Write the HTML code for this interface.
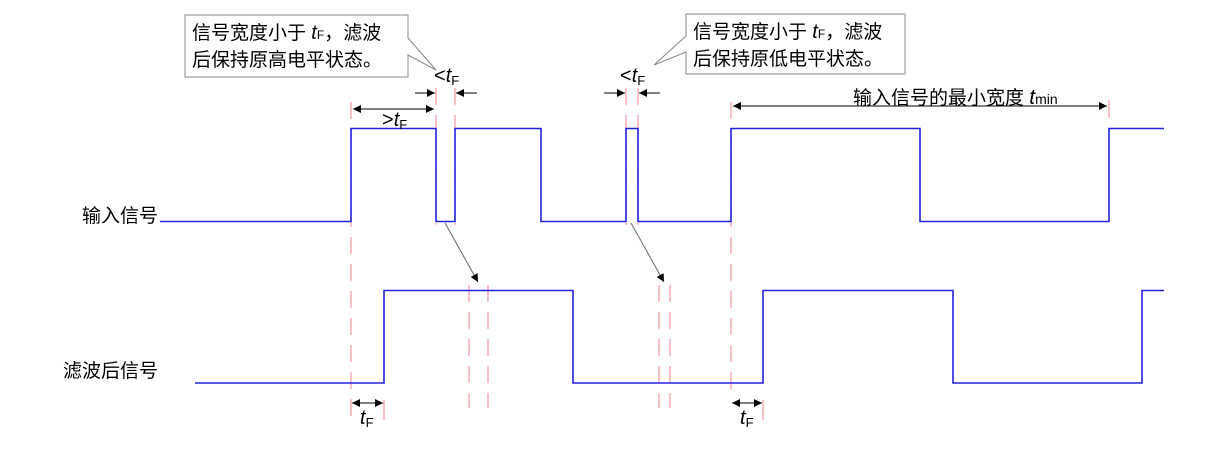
<!DOCTYPE html>
<html><head><meta charset="utf-8"><style>
html,body{margin:0;padding:0;background:#fff;}
svg{display:block;}
text{font-family:"Liberation Sans","Noto Sans CJK SC",sans-serif;fill:#000;}
</style></head><body>
<svg width="1210" height="453" viewBox="0 0 1210 453" xmlns="http://www.w3.org/2000/svg">
<defs>
<marker id="a" viewBox="0 0 10 10" refX="10" refY="5" markerWidth="8" markerHeight="8" orient="auto-start-reverse" markerUnits="userSpaceOnUse"><path d="M0,0 L10,5 L0,10 z" fill="#000"/></marker>
</defs>
<g stroke="#f0a0a8" stroke-width="1.3" fill="none">
<line x1="351" y1="102" x2="351" y2="420" stroke-dasharray="17 10"/>
<line x1="731" y1="102" x2="731" y2="398" stroke-dasharray="17 10"/>
<line x1="436" y1="88" x2="436" y2="225" stroke-dasharray="17 10"/>
<line x1="455" y1="88" x2="455" y2="225" stroke-dasharray="17 10"/>
<line x1="626" y1="88" x2="626" y2="225" stroke-dasharray="17 10"/>
<line x1="638" y1="88" x2="638" y2="225" stroke-dasharray="17 10"/>
<line x1="469" y1="285" x2="469" y2="408" stroke-dasharray="17 10"/>
<line x1="488" y1="285" x2="488" y2="408" stroke-dasharray="17 10"/>
<line x1="659" y1="285" x2="659" y2="408" stroke-dasharray="17 10"/>
<line x1="670" y1="285" x2="670" y2="408" stroke-dasharray="17 10"/>
<line x1="384" y1="400" x2="384" y2="420"/>
<line x1="763" y1="400" x2="763" y2="420"/>
<line x1="1109" y1="100" x2="1109" y2="118"/>
</g>
<g stroke="#2222dd" stroke-width="1.6" fill="none">
<polyline points="160,221.5 351,221.5 351,128.5 436,128.5 436,221.5 455,221.5 455,128.5 541,128.5 541,221.5 626,221.5 626,128.5 638,128.5 638,221.5 731,221.5 731,128.5 920,128.5 920,221.5 1109,221.5 1109,128.5 1164,128.5"/>
<polyline points="195,383 384,383 384,290.5 573,290.5 573,383 763,383 763,290.5 953,290.5 953,383 1142,383 1142,290.5 1164,290.5"/>
</g>
<g stroke="#000" stroke-width="1" fill="none">
<line x1="353" y1="109" x2="434" y2="109" marker-start="url(#a)" marker-end="url(#a)"/>
<line x1="415" y1="93" x2="435" y2="93" marker-end="url(#a)"/>
<line x1="477" y1="93" x2="456" y2="93" marker-end="url(#a)"/>
<line x1="604" y1="93" x2="625" y2="93" marker-end="url(#a)"/>
<line x1="660" y1="93" x2="639" y2="93" marker-end="url(#a)"/>
<line x1="733" y1="106" x2="1107" y2="106" marker-start="url(#a)" marker-end="url(#a)"/>
<line x1="352" y1="403" x2="383" y2="403" marker-start="url(#a)" marker-end="url(#a)"/>
<line x1="732" y1="403" x2="762" y2="403" marker-start="url(#a)" marker-end="url(#a)"/>
</g>
<g stroke="#666" stroke-width="1" fill="none">
<line x1="445" y1="223" x2="478" y2="282" marker-end="url(#a)"/>
<line x1="631" y1="223" x2="664" y2="282" marker-end="url(#a)"/>
</g>
<g stroke="#888" stroke-width="1">
<path d="M185,15 H408 V38 L436,70 L408,55 V77 H185 Z" fill="#fff"/>
<path d="M686,14 H905 V74 H686 V52 L654,65 L686,36 Z" fill="#fff"/>
</g>
<g font-size="19">
<text x="192" y="39">信号宽度小于 <tspan font-style="italic" font-size="20">t</tspan><tspan font-size="12">F</tspan>，滤波</text>
<text x="192" y="66">后保持原高电平状态。</text>
<text x="693" y="38">信号宽度小于 <tspan font-style="italic" font-size="20">t</tspan><tspan font-size="12">F</tspan>，滤波</text>
<text x="693" y="65">后保持原低电平状态。</text>
<text x="853" y="104">输入信号的最小宽度 <tspan font-style="italic" font-size="21">t</tspan><tspan font-size="14">min</tspan></text>
<text x="82" y="222">输入信号</text>
<text x="63" y="377">滤波后信号</text>
</g>
<g font-size="20">
<text x="434" y="82">&lt;<tspan font-style="italic">t</tspan><tspan font-size="13" dy="3">F</tspan></text>
<text x="620" y="82">&lt;<tspan font-style="italic">t</tspan><tspan font-size="13" dy="3">F</tspan></text>
<text x="382" y="126">&gt;<tspan font-style="italic">t</tspan><tspan font-size="13" dy="3">F</tspan></text>
<text x="360" y="424"><tspan font-style="italic">t</tspan><tspan font-size="13" dy="3">F</tspan></text>
<text x="740" y="424"><tspan font-style="italic">t</tspan><tspan font-size="13" dy="3">F</tspan></text>
</g>
</svg>
</body></html>
